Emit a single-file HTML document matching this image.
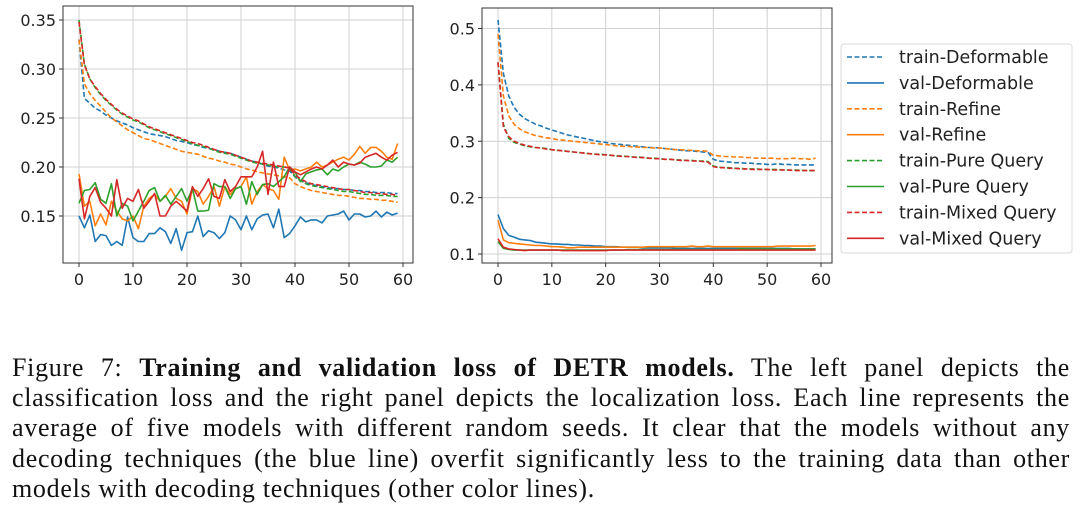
<!DOCTYPE html>
<html><head><meta charset="utf-8">
<style>
body{margin:0;background:#fff;width:1080px;height:522px;overflow:hidden;position:relative;}
svg{position:absolute;left:0;top:0;}
.cap{position:absolute;left:12px;width:1058px;font-family:"Liberation Serif",serif;font-size:26px;letter-spacing:0.7px;color:#111;text-align:justify;text-align-last:justify;white-space:nowrap;line-height:30px;}
.cap.last{text-align-last:left;}
</style></head>
<body>
<svg id="chart" width="1080" height="300"></svg>
<div class="cap" style="top:353px">Figure 7: <b>Training and validation loss of DETR models.</b> The left panel depicts the</div>
<div class="cap" style="top:383px">classification loss and the right panel depicts the localization loss. Each line represents the</div>
<div class="cap" style="top:413px">average of five models with different random seeds. It clear that the models without any</div>
<div class="cap" style="top:444px">decoding techniques (the blue line) overfit significantly less to the training data than other</div>
<div class="cap last" style="top:474px">models with decoding techniques (other color lines).</div>
<script>
const seriesNames=["train-Deformable","val-Deformable","train-Refine","val-Refine","train-Pure Query","val-Pure Query","train-Mixed Query","val-Mixed Query"];
const xTicks=[0,10,20,30,40,50,60];
const leftYTicks=[0.15,0.20,0.25,0.30,0.35];
const leftYLabels=["0.15","0.20","0.25","0.30","0.35"];
const rightYTicks=[0.1,0.2,0.3,0.4,0.5];
const rightYLabels=["0.1","0.2","0.3","0.4","0.5"];
// left panel (classification loss)
const L_trainDef=[0.33,0.27,0.265,0.26,0.257,0.253,0.25,0.247,0.245,0.243,0.24,0.238,0.236,0.234,0.233,0.232,0.231,0.229,0.227,0.226,0.225,0.223,0.222,0.22,0.219,0.218,0.216,0.215,0.214,0.212,0.21,0.208,0.206,0.205,0.203,0.201,0.2,0.199,0.197,0.196,0.19,0.186,0.184,0.182,0.181,0.18,0.179,0.178,0.178,0.177,0.177,0.176,0.176,0.175,0.175,0.174,0.174,0.174,0.173,0.173];
const L_valDef=[0.15,0.138,0.151,0.124,0.131,0.13,0.12,0.124,0.12,0.149,0.128,0.124,0.124,0.132,0.132,0.138,0.134,0.122,0.137,0.115,0.133,0.134,0.15,0.129,0.135,0.133,0.127,0.133,0.15,0.146,0.136,0.15,0.136,0.147,0.151,0.152,0.138,0.157,0.128,0.132,0.14,0.149,0.144,0.146,0.146,0.143,0.15,0.151,0.152,0.155,0.146,0.152,0.152,0.149,0.15,0.155,0.149,0.154,0.151,0.153];
const L_trainRef=[0.33,0.285,0.275,0.268,0.262,0.256,0.25,0.246,0.242,0.238,0.235,0.232,0.229,0.228,0.226,0.224,0.222,0.22,0.218,0.216,0.215,0.214,0.213,0.211,0.209,0.208,0.206,0.205,0.203,0.202,0.2,0.198,0.197,0.195,0.194,0.193,0.192,0.191,0.19,0.189,0.183,0.18,0.178,0.176,0.175,0.174,0.173,0.172,0.171,0.171,0.17,0.169,0.168,0.168,0.167,0.167,0.166,0.166,0.165,0.164];
const L_valRef=[0.193,0.16,0.165,0.14,0.152,0.141,0.165,0.155,0.147,0.145,0.15,0.137,0.16,0.168,0.172,0.165,0.17,0.178,0.168,0.165,0.152,0.178,0.175,0.162,0.17,0.18,0.16,0.18,0.172,0.178,0.18,0.19,0.162,0.175,0.182,0.178,0.176,0.167,0.21,0.197,0.198,0.196,0.198,0.2,0.205,0.2,0.202,0.205,0.208,0.21,0.207,0.213,0.221,0.214,0.22,0.22,0.216,0.21,0.208,0.224];
const L_trainPure=[0.35,0.305,0.29,0.281,0.274,0.268,0.263,0.258,0.254,0.251,0.248,0.246,0.243,0.24,0.238,0.236,0.234,0.232,0.23,0.228,0.226,0.224,0.222,0.221,0.219,0.217,0.215,0.214,0.213,0.211,0.209,0.207,0.205,0.204,0.203,0.202,0.201,0.2,0.2,0.199,0.19,0.186,0.183,0.181,0.18,0.179,0.178,0.177,0.176,0.175,0.175,0.174,0.173,0.172,0.172,0.171,0.171,0.171,0.17,0.17];
const L_valPure=[0.163,0.176,0.177,0.184,0.167,0.163,0.183,0.15,0.163,0.16,0.145,0.155,0.165,0.176,0.179,0.165,0.171,0.162,0.17,0.178,0.165,0.178,0.155,0.155,0.156,0.183,0.18,0.18,0.168,0.178,0.18,0.162,0.185,0.172,0.182,0.183,0.18,0.185,0.19,0.2,0.195,0.185,0.193,0.195,0.197,0.198,0.192,0.198,0.196,0.2,0.203,0.202,0.205,0.203,0.2,0.2,0.201,0.207,0.205,0.21];
const L_trainMix=[0.348,0.304,0.29,0.282,0.275,0.269,0.264,0.259,0.255,0.252,0.249,0.247,0.244,0.241,0.239,0.237,0.235,0.233,0.231,0.229,0.227,0.225,0.224,0.222,0.22,0.218,0.216,0.215,0.214,0.212,0.21,0.208,0.206,0.205,0.204,0.203,0.202,0.201,0.2,0.199,0.192,0.188,0.185,0.183,0.182,0.181,0.18,0.179,0.178,0.177,0.177,0.176,0.175,0.174,0.174,0.173,0.173,0.172,0.172,0.171];
const L_valMix=[0.188,0.147,0.17,0.179,0.164,0.158,0.15,0.187,0.158,0.168,0.165,0.177,0.158,0.165,0.173,0.15,0.15,0.16,0.165,0.16,0.155,0.18,0.17,0.178,0.188,0.17,0.168,0.187,0.175,0.18,0.19,0.19,0.19,0.2,0.216,0.172,0.205,0.18,0.18,0.2,0.195,0.192,0.195,0.198,0.2,0.198,0.202,0.207,0.2,0.205,0.203,0.202,0.204,0.21,0.212,0.214,0.21,0.207,0.212,0.215];
// right panel (localization loss)
const R_trainDef=[0.515,0.42,0.38,0.36,0.348,0.34,0.335,0.33,0.327,0.323,0.32,0.317,0.314,0.311,0.309,0.307,0.305,0.303,0.301,0.299,0.298,0.296,0.295,0.294,0.293,0.292,0.291,0.29,0.289,0.289,0.288,0.287,0.286,0.285,0.284,0.283,0.283,0.282,0.281,0.28,0.268,0.265,0.264,0.263,0.262,0.262,0.261,0.261,0.26,0.26,0.259,0.259,0.26,0.259,0.259,0.258,0.258,0.258,0.258,0.258];
const R_valDef=[0.17,0.145,0.133,0.13,0.126,0.125,0.124,0.121,0.12,0.119,0.118,0.118,0.117,0.117,0.116,0.116,0.115,0.115,0.114,0.114,0.113,0.113,0.113,0.112,0.112,0.112,0.112,0.111,0.111,0.111,0.111,0.111,0.111,0.11,0.11,0.11,0.11,0.11,0.11,0.11,0.11,0.11,0.11,0.11,0.11,0.11,0.11,0.11,0.11,0.11,0.11,0.11,0.11,0.11,0.11,0.109,0.109,0.109,0.109,0.109];
const R_trainRef=[0.49,0.38,0.345,0.33,0.322,0.317,0.313,0.31,0.308,0.306,0.305,0.303,0.302,0.301,0.3,0.299,0.298,0.297,0.296,0.295,0.294,0.293,0.292,0.291,0.291,0.29,0.29,0.289,0.289,0.288,0.288,0.287,0.286,0.285,0.285,0.284,0.284,0.283,0.283,0.282,0.275,0.274,0.273,0.273,0.272,0.272,0.271,0.271,0.27,0.27,0.27,0.27,0.269,0.269,0.269,0.27,0.269,0.269,0.268,0.27];
const R_valRef=[0.16,0.125,0.12,0.119,0.118,0.117,0.116,0.115,0.115,0.114,0.113,0.113,0.112,0.111,0.111,0.112,0.112,0.112,0.112,0.112,0.112,0.112,0.112,0.112,0.112,0.112,0.112,0.112,0.113,0.113,0.113,0.113,0.113,0.113,0.113,0.113,0.114,0.113,0.113,0.114,0.113,0.113,0.113,0.113,0.113,0.113,0.113,0.113,0.113,0.113,0.113,0.113,0.114,0.114,0.114,0.114,0.114,0.114,0.114,0.115];
const R_trainPure=[0.44,0.33,0.305,0.298,0.295,0.292,0.29,0.289,0.288,0.287,0.285,0.284,0.283,0.282,0.281,0.28,0.279,0.278,0.277,0.277,0.276,0.275,0.274,0.274,0.273,0.272,0.272,0.271,0.27,0.27,0.269,0.268,0.268,0.267,0.267,0.266,0.266,0.265,0.265,0.264,0.256,0.254,0.253,0.253,0.252,0.252,0.251,0.251,0.251,0.25,0.25,0.25,0.25,0.249,0.249,0.249,0.249,0.248,0.248,0.248];
const R_valPure=[0.122,0.11,0.108,0.107,0.107,0.107,0.107,0.107,0.107,0.107,0.107,0.107,0.107,0.107,0.107,0.107,0.107,0.107,0.107,0.107,0.107,0.107,0.107,0.107,0.108,0.108,0.108,0.108,0.108,0.108,0.108,0.108,0.108,0.108,0.108,0.108,0.108,0.108,0.108,0.108,0.108,0.108,0.108,0.108,0.108,0.109,0.109,0.109,0.109,0.109,0.109,0.109,0.109,0.109,0.109,0.109,0.109,0.109,0.109,0.109];
const R_trainMix=[0.44,0.325,0.308,0.3,0.296,0.293,0.291,0.289,0.288,0.286,0.285,0.284,0.283,0.282,0.281,0.28,0.279,0.278,0.277,0.276,0.276,0.275,0.274,0.273,0.273,0.272,0.271,0.271,0.27,0.269,0.269,0.268,0.268,0.267,0.266,0.266,0.265,0.265,0.264,0.263,0.255,0.253,0.253,0.252,0.252,0.251,0.251,0.25,0.25,0.25,0.25,0.249,0.249,0.249,0.249,0.248,0.248,0.248,0.248,0.248];
const R_valMix=[0.127,0.112,0.109,0.108,0.107,0.106,0.107,0.107,0.107,0.107,0.107,0.107,0.106,0.106,0.106,0.106,0.106,0.106,0.106,0.106,0.106,0.107,0.107,0.107,0.107,0.107,0.107,0.107,0.107,0.107,0.107,0.107,0.107,0.107,0.107,0.107,0.107,0.107,0.107,0.107,0.107,0.107,0.107,0.107,0.107,0.107,0.107,0.107,0.107,0.107,0.107,0.107,0.107,0.107,0.107,0.107,0.107,0.107,0.107,0.107];

const NS="http://www.w3.org/2000/svg";
const svg=document.getElementById('chart');
const colors=["#1f77b4","#1f77b4","#ff7f0e","#ff7f0e","#2ca02c","#2ca02c","#d62728","#d62728"];
const dashed=[true,false,true,false,true,false,true,false];
function mk(tag,attrs,parent){const e=document.createElementNS(NS,tag);for(const k in attrs)e.setAttribute(k,attrs[k]);(parent||svg).appendChild(e);return e;}

function panel(cfg,series,yTicks,yLabels,name){
  const g=mk('g',{});
  
  
  const xs=v=>cfg.x0+(v-0)*(cfg.x60-cfg.x0)/60;
  const ys=v=>cfg.yA+(v-cfg.vA)*(cfg.yB-cfg.yA)/(cfg.vB-cfg.vA);
  xTicks.forEach(t=>{
    const l=mk('line',{x1:xs(t),x2:xs(t),y1:cfg.top,y2:cfg.bot,stroke:'#d0d0d0','stroke-width':1},g);
    
    
    mk('line',{x1:xs(t),x2:xs(t),y1:cfg.bot,y2:cfg.bot+4,stroke:'#333','stroke-width':1},g);
    const tx=mk('text',{x:xs(t),y:cfg.bot+22,'text-anchor':'middle','font-family':'DejaVu Sans, Liberation Sans, sans-serif','font-size':'16','fill':'#222'},g);
    tx.textContent=t;
    
    
  });
  yTicks.forEach((t,i)=>{
    const l=mk('line',{x1:cfg.left,x2:cfg.right,y1:ys(t),y2:ys(t),stroke:'#d0d0d0','stroke-width':1},g);
    
    
    mk('line',{x1:cfg.left-4,x2:cfg.left,y1:ys(t),y2:ys(t),stroke:'#333','stroke-width':1},g);
    const tx=mk('text',{x:cfg.left-7,y:ys(t)+6,'text-anchor':'end','font-family':'DejaVu Sans, Liberation Sans, sans-serif','font-size':'16','fill':'#222'},g);
    tx.textContent=yLabels[i];
    
    
  });
  series.forEach((arr,si)=>{
    const d=arr.map((v,i)=>(i?'L':'M')+xs(i).toFixed(1)+' '+ys(v).toFixed(1)).join(' ');
    const p=mk('path',{d:d,fill:'none',stroke:colors[si],'stroke-width':1.6,'stroke-dasharray':dashed[si]?'5,2.5':'none','stroke-linejoin':'round'},g);
    
    
  });
  const fr=mk('rect',{x:cfg.left,y:cfg.top,width:cfg.right-cfg.left,height:cfg.bot-cfg.top,fill:'none',stroke:'#333','stroke-width':1},g);
  
  
}
panel({left:63,right:413,top:6,bot:263,x0:79,x60:403,yA:20,vA:0.35,yB:216,vB:0.15},
  [L_trainDef,L_valDef,L_trainRef,L_valRef,L_trainPure,L_valPure,L_trainMix,L_valMix],leftYTicks,leftYLabels,'classification-loss-panel');
panel({left:482,right:832,top:8,bot:263,x0:498,x60:821,yA:28.5,vA:0.5,yB:254,vB:0.1},
  [R_trainDef,R_valDef,R_trainRef,R_valRef,R_trainPure,R_valPure,R_trainMix,R_valMix],rightYTicks,rightYLabels,'localization-loss-panel');

// legend
const lg=mk('g',{});


mk('rect',{x:841,y:44,width:231,height:209,rx:3,fill:'#fff',stroke:'#d8d8d8','stroke-width':1},lg);
seriesNames.forEach((n,i)=>{
  const y=57+i*25.9;
  const e=mk('g',{},lg);
  
  
  mk('line',{x1:847,x2:884,y1:y,y2:y,stroke:colors[i],'stroke-width':1.6,'stroke-dasharray':dashed[i]?'5,2.5':'none'},e);
  const t=mk('text',{x:899,y:y+6,'font-family':'DejaVu Sans, Liberation Sans, sans-serif','font-size':'17.5','fill':'#222'},e);
  t.textContent=n;
});
</script>
</body></html>
